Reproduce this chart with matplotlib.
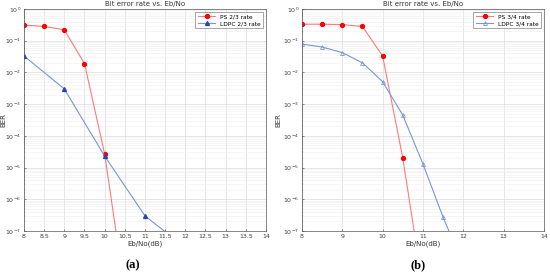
import numpy as np
import matplotlib.pyplot as plt
from matplotlib.ticker import LogLocator, NullFormatter

# panel (a): rate 2/3
ps23_x = [8, 8.5, 9, 9.5, 10, 10.5]
ps23_y = [0.31, 0.28, 0.22, 0.019, 2.7e-5, 1.2e-9]
ldpc23_x = [8, 9, 10, 11, 12]
ldpc23_y = [0.033, 0.003, 2.3e-5, 3e-7, 3e-8]

# panel (b): rate 3/4
ps34_x = [8, 8.5, 9, 9.5, 10, 10.5, 11]
ps34_y = [0.33, 0.33, 0.32, 0.28, 0.033, 2e-5, 1.6e-9]
ldpc34_x = [8, 8.5, 9, 9.5, 10, 10.5, 11, 11.5, 12]
ldpc34_y = [0.078, 0.063, 0.042, 0.020, 0.0051, 4.5e-4, 1.3e-5, 2.7e-7, 8.5e-9]

xticks_a = np.arange(8, 14.01, 0.5)
xticks_b = np.arange(8, 14.01, 1)

red_line = '#ff7a7a'
red_mk = '#ff0000'
blue_line = '#7a96d6'
blue_mk = '#2a44a8'

fig = plt.figure(figsize=(5.5, 2.79), dpi=100)


def setup(ax, xticks, ylab_x):
    ax.set_yscale('log')
    ax.set_xlim(8, 14)
    ax.set_ylim(1e-7, 1)
    ax.set_xticks(xticks)
    ax.set_xticklabels(['%g' % t for t in xticks])
    ax.yaxis.set_major_locator(LogLocator(base=10, numticks=20))
    ax.yaxis.set_minor_locator(LogLocator(base=10, subs=np.arange(2, 10), numticks=20))
    ax.yaxis.set_minor_formatter(NullFormatter())
    ax.grid(True, which='major', color='#dcdcdc', linewidth=0.5)
    ax.grid(True, which='minor', color='#eeeeee', linewidth=0.4)
    ax.tick_params(labelsize=4.5, length=1.5, width=0.4, colors='#404040', pad=2,
                   direction='in')
    ax.tick_params(which='minor', length=0.8, width=0.3, direction='in')
    for s in ax.spines.values():
        s.set_linewidth(0.5)
        s.set_color('#555555')
    ax.set_title('Bit error rate vs. Eb/No', fontsize=5, pad=2, color='#333333')
    ax.set_xlabel('Eb/No(dB)', fontsize=5, labelpad=1, color='#333333')
    ax.set_ylabel('BER', fontsize=5, color='#333333')
    ax.yaxis.set_label_coords(ylab_x, 0.5)


ax1 = fig.add_axes([0.0436, 0.172, 0.44, 0.796])
setup(ax1, xticks_a, -0.072)
ax1.plot(ps23_x, ps23_y, color=red_line, lw=0.8, marker='o', ms=2.8,
         mfc=red_mk, mec=red_mk, label='PS 2/3 rate')
ax1.plot(ldpc23_x, ldpc23_y, color=blue_line, lw=0.8, marker='^', ms=2.8,
         mfc=blue_mk, mec=blue_mk, label='LDPC 2/3 rate')
ax1.legend(loc='upper right', fontsize=4.2, frameon=True, fancybox=False,
           edgecolor='#666666', framealpha=1, handlelength=3, borderpad=0.4,
           labelspacing=0.3).get_frame().set_linewidth(0.4)

ax2 = fig.add_axes([0.549, 0.172, 0.44, 0.796])
setup(ax2, xticks_b, -0.085)
ax2.plot(ps34_x, ps34_y, color=red_line, lw=0.8, marker='o', ms=2.8,
         mfc=red_mk, mec=red_mk, label='PS 3/4 rate')
ax2.plot(ldpc34_x, ldpc34_y, color=blue_line, lw=0.8, marker='^', ms=2.8,
         mfc='none', mec=blue_line, mew=0.6, label='LDPC 3/4 rate')
ax2.legend(loc='upper right', fontsize=4.2, frameon=True, fancybox=False,
           edgecolor='#666666', framealpha=1, handlelength=3, borderpad=0.4,
           labelspacing=0.3).get_frame().set_linewidth(0.4)

fig.text(133 / 550, 1 - 265 / 279, '(a)', ha='center', va='center',
         fontsize=9, family='Liberation Serif', fontweight='bold')
fig.text(418 / 550, 1 - 265 / 279, '(b)', ha='center', va='center',
         fontsize=9, family='Liberation Serif', fontweight='bold')

fig.savefig('out.png', dpi=100)
